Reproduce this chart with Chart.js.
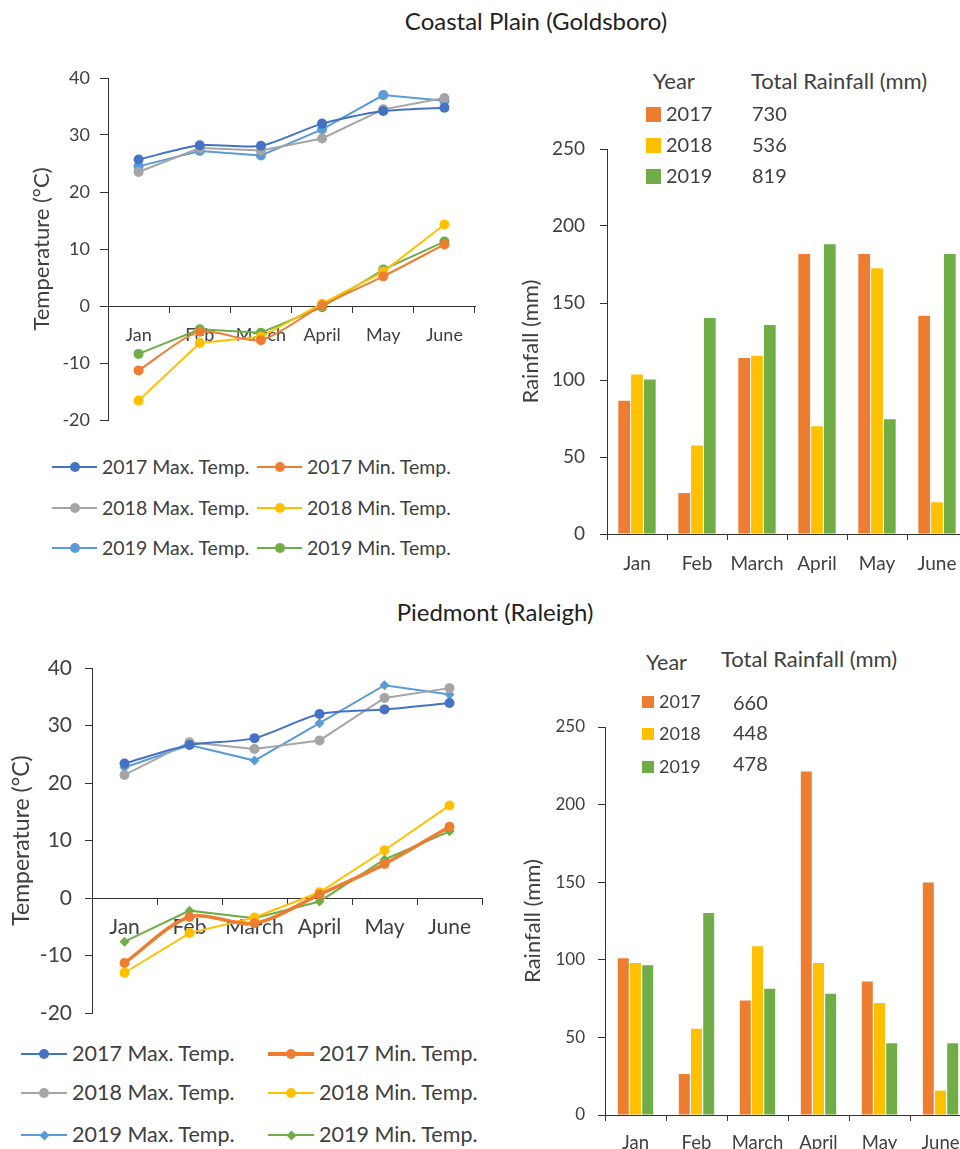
<!DOCTYPE html>
<html lang="en">
<head>
<meta charset="UTF-8">
<script src="https://cdn.jsdelivr.net/npm/chart.js"></script>
<style>
  html, body { margin: 0; padding: 0; width: 960px; height: 1149px; overflow: hidden; background: #fff; }
  body { position: relative; font-family: Lato, 'Liberation Sans', sans-serif; color: #404040; }
  canvas { position: absolute; }
  .t { position: absolute; white-space: nowrap; line-height: 1; }
  .ln { position: absolute; }
  .mk { position: absolute; }
</style>
</head>
<body>
<script>
// ---- data ----
const months = ['Jan', 'Feb', 'March', 'April', 'May', 'June'];
const years = ['2017', '2018', '2019'];

// Coastal Plain (Goldsboro), temperature in °C
const gMax2017 = [25.7, 28.2, 28.1, 32.0, 34.2, 34.8];
const gMin2017 = [-11.3, -4.5, -6.0, 0.1, 5.2, 10.8];
const gMax2018 = [23.5, 27.7, 27.3, 29.4, 34.5, 36.5];
const gMin2018 = [-16.6, -6.5, -5.4, 0.4, 6.0, 14.3];
const gMax2019 = [24.5, 27.2, 26.4, 31.0, 37.0, 36.0];
const gMin2019 = [-8.4, -4.1, -4.7, -0.2, 6.4, 11.3];
// rainfall in mm
const gRain2017 = [86.6, 26.6, 114.3, 181.8, 181.8, 141.8];
const gRain2018 = [103.5, 57.4, 115.8, 69.9, 172.5, 20.6];
const gRain2019 = [100.4, 140.3, 135.7, 188.1, 74.5, 181.8];
const gTotals = [730, 536, 819];

// Piedmont (Raleigh)
const rMax2017 = [23.4, 26.6, 27.8, 32.0, 32.8, 33.9];
const rMin2017 = [-11.3, -3.3, -4.4, 0.6, 5.9, 12.4];
const rMax2018 = [21.4, 27.1, 25.9, 27.4, 34.8, 36.5];
const rMin2018 = [-13.0, -6.1, -3.4, 1.0, 8.3, 16.1];
const rMax2019 = [22.7, 26.6, 23.9, 30.4, 37.0, 35.4];
const rMin2019 = [-7.6, -2.2, -3.5, -0.6, 6.7, 11.6];
const rRain2017 = [101.0, 26.4, 73.7, 221.4, 86.0, 149.8];
const rRain2018 = [98.0, 55.5, 108.8, 98.0, 72.2, 15.7];
const rRain2019 = [96.5, 130.1, 81.3, 78.2, 46.2, 46.2];
const rTotals = [660, 448, 478];

const tempTicks = { min: -20, max: 40, step: 10 };
const rainTicks = { min: 0, max: 250, step: 50 };

// ---- styles ----
const BLUE = '#4472C4', ORANGE = '#ED7D31', GRAY = '#A5A5A5',
      YELLOW = '#FFC000', LBLUE = '#5B9BD5', GREEN = '#70AD47';
const AXIS = '#333333';
Chart.defaults.font.family = 'Lato';
Chart.defaults.color = '#404040';

function text(str, x, y, size, color, align) {
  const d = document.createElement('div');
  d.className = 't';
  d.textContent = str;
  d.style.fontSize = size + 'px';
  d.style.top = (y - size * 0.53) + 'px';
  if (color) d.style.color = color;
  if (align === 'center') { d.style.left = x + 'px'; d.style.transform = 'translateX(-50%)'; }
  else d.style.left = x + 'px';
  document.body.appendChild(d);
}

function canvas(x, y, w, h) {
  const c = document.createElement('canvas');
  c.width = w; c.height = h;
  c.style.left = x + 'px'; c.style.top = y + 'px';
  c.style.width = w + 'px'; c.style.height = h + 'px';
  document.body.appendChild(c);
  return c;
}

function lineEntry(x, y, len, color, shape, lw, label, size) {
  const l = document.createElement('div');
  l.className = 'ln';
  l.style.left = x + 'px'; l.style.top = (y - lw / 2) + 'px';
  l.style.width = len + 'px'; l.style.height = lw + 'px';
  l.style.background = color;
  document.body.appendChild(l);
  const m = document.createElement('div');
  m.className = 'mk';
  m.style.background = color;
  if (shape === 'circle') {
    m.style.width = '10px'; m.style.height = '10px'; m.style.borderRadius = '50%';
    m.style.left = (x + len / 2 - 5) + 'px'; m.style.top = (y - 5) + 'px';
  } else {
    m.style.width = '7px'; m.style.height = '7px'; m.style.transform = 'rotate(45deg)';
    m.style.left = (x + len / 2 - 3.5) + 'px'; m.style.top = (y - 3.5) + 'px';
  }
  document.body.appendChild(m);
  text(label, x + len + 5, y, size);
}

function tempChart(cv, sets, g) {
  return new Chart(cv, {
    type: 'line',
    data: {
      labels: months,
      datasets: sets.map(s => ({
        label: s.label, data: s.data,
        borderColor: s.color, backgroundColor: s.color,
        borderWidth: s.width || 2,
        pointStyle: s.shape || 'circle',
        pointRadius: 5,
        pointBorderWidth: 0,
        tension: s.tension || 0,
        fill: false
      }))
    },
    options: {
      responsive: false, animation: false, devicePixelRatio: 1,
      layout: { padding: g.pad },
      plugins: { legend: { display: false }, tooltip: { enabled: false } },
      scales: {
        x: {
          position: { y: 0 }, offset: true,
          grid: { offset: true, drawOnChartArea: false, tickLength: 6, color: AXIS },
          border: { color: AXIS, width: 1 },
          ticks: { font: { size: g.font }, padding: g.xPad, color: '#404040' }
        },
        y: {
          min: tempTicks.min, max: tempTicks.max,
          afterFit: s => { s.width = g.yWidth; },
          grid: { drawOnChartArea: false, tickLength: g.tick, color: AXIS },
          border: { color: AXIS, width: 1 },
          ticks: { stepSize: tempTicks.step, font: { size: g.font }, padding: g.yPad, color: '#404040' },
          title: { display: true, text: 'Temperature (°C)', font: { size: g.titleFont }, padding: { top: g.titlePad, bottom: 0 }, color: '#404040' }
        }
      }
    }
  });
}

function rainChart(cv, sets, g) {
  return new Chart(cv, {
    type: 'bar',
    data: {
      labels: months,
      datasets: sets.map(s => ({
        label: s.label, data: s.data, backgroundColor: s.color, borderWidth: 0,
        categoryPercentage: g.catPct, barPercentage: g.barPct
      }))
    },
    options: {
      responsive: false, animation: false, devicePixelRatio: 1,
      layout: { padding: g.pad },
      plugins: { legend: { display: false }, tooltip: { enabled: false } },
      scales: {
        x: {
          afterFit: s => { s.height = g.xHeight; },
          grid: { offset: true, drawOnChartArea: false, tickLength: 6, color: AXIS },
          border: { color: AXIS, width: 1 },
          ticks: { font: { size: g.xFont }, padding: g.xPad, color: '#404040', maxRotation: 0, autoSkip: false }
        },
        y: {
          min: rainTicks.min, max: rainTicks.max,
          afterFit: s => { s.width = g.yWidth; },
          grid: { drawOnChartArea: false, tickLength: 7, color: AXIS },
          border: { color: AXIS, width: 1 },
          ticks: { stepSize: rainTicks.step, font: { size: g.font }, padding: g.yPad, color: '#404040' },
          title: { display: true, text: 'Rainfall (mm)', font: { size: g.titleFont }, padding: { top: g.titlePad, bottom: 0 }, color: '#404040' }
        }
      }
    }
  });
}

// ---- titles ----
text('Coastal Plain (Goldsboro)', 536, 22, 24, '#222', 'center');
text('Piedmont (Raleigh)', 495, 613, 24, '#222', 'center');

// ---- Coastal temperature ----
const gSets = [
  { label: '2017 Max. Temp.', data: gMax2017, color: BLUE, tension: 0.25 },
  { label: '2017 Min. Temp.', data: gMin2017, color: ORANGE, tension: 0.25 },
  { label: '2018 Max. Temp.', data: gMax2018, color: GRAY },
  { label: '2018 Min. Temp.', data: gMin2018, color: YELLOW },
  { label: '2019 Max. Temp.', data: gMax2019, color: LBLUE },
  { label: '2019 Min. Temp.', data: gMin2019, color: GREEN }
];
tempChart(canvas(0, 57, 480, 384), gSets,
  { pad: { top: 21, right: 3, bottom: 21, left: 0 }, yWidth: 108, tick: 8, font: 18, xPad: 12, yPad: 10, titleFont: 22, titlePad: 29 });
const gLegRows = [467, 508, 548], gLegCols = [52, 257];
gSets.forEach((s, i) => {
  lineEntry(gLegCols[i % 2], gLegRows[Math.floor(i / 2)], 45, s.color, 'circle', 2, s.label, 19.5);
});

// ---- Coastal rainfall ----
const gRainSets = [
  { label: years[0], data: gRain2017, color: ORANGE },
  { label: years[1], data: gRain2018, color: YELLOW },
  { label: years[2], data: gRain2019, color: GREEN }
];
rainChart(canvas(500, 122, 475, 458), gRainSets,
  { pad: { top: 27, right: 8, bottom: 0, left: 0 }, yWidth: 107, xHeight: 46, font: 19, xFont: 19, xPad: 12, yPad: 15, titleFont: 22, titlePad: 18, catPct: 0.64, barPct: 0.92 });
text('Year', 653, 82, 22);
text('Total Rainfall (mm)', 751, 82, 22);
[114, 145, 176].forEach((y, i) => {
  const sw = document.createElement('div');
  sw.className = 'mk';
  sw.style.cssText = `left:646px;top:${y - 7.5}px;width:15px;height:15px;background:${gRainSets[i].color}`;
  document.body.appendChild(sw);
  text(years[i], 666, y, 20);
  text(String(gTotals[i]), 752, y, 20);
});

// ---- Piedmont temperature ----
const rSets = [
  { label: '2017 Max. Temp.', data: rMax2017, color: BLUE, tension: 0.25, shape: 'circle' },
  { label: '2017 Min. Temp.', data: rMin2017, color: ORANGE, tension: 0.3, width: 3.5, shape: 'circle' },
  { label: '2018 Max. Temp.', data: rMax2018, color: GRAY, shape: 'circle' },
  { label: '2018 Min. Temp.', data: rMin2018, color: YELLOW, shape: 'circle' },
  { label: '2019 Max. Temp.', data: rMax2019, color: LBLUE, shape: 'rectRot' },
  { label: '2019 Min. Temp.', data: rMin2019, color: GREEN, shape: 'rectRot' }
];
tempChart(canvas(0, 640, 490, 400), rSets,
  { pad: { top: 28, right: 8, bottom: 27, left: 0 }, yWidth: 92, tick: 7, font: 21, xPad: 11, yPad: 13, titleFont: 23, titlePad: 8 });
const rLegRows = [1054, 1093, 1135], rLegCols = [21, 268];
rSets.forEach((s, i) => {
  lineEntry(rLegCols[i % 2], rLegRows[Math.floor(i / 2)], 46, s.color, s.shape, s.width || 2, s.label, 21.5);
});

// ---- Piedmont rainfall ----
const rRainSets = [
  { label: years[0], data: rRain2017, color: ORANGE },
  { label: years[1], data: rRain2018, color: YELLOW },
  { label: years[2], data: rRain2019, color: GREEN }
];
rainChart(canvas(500, 700, 480, 449), rRainSets,
  { pad: { top: 27, right: 9, bottom: 0, left: 0 }, yWidth: 105, xHeight: 34, font: 17, xFont: 18.5, xPad: 11, yPad: 13, titleFont: 22, titlePad: 20, catPct: 0.6, barPct: 0.9 });
text('Year', 646, 663, 21.5);
text('Total Rainfall (mm)', 721, 660, 22);
[[702, 703], [734, 733], [767, 764]].forEach(([y, yv], i) => {
  const sw = document.createElement('div');
  sw.className = 'mk';
  sw.style.cssText = `left:642px;top:${y - 6}px;width:12px;height:12px;background:${rRainSets[i].color}`;
  document.body.appendChild(sw);
  text(years[i], 659, y, 18);
  text(String(rTotals[i]), 733, yv, 20);
});
</script>
</body>
</html>
